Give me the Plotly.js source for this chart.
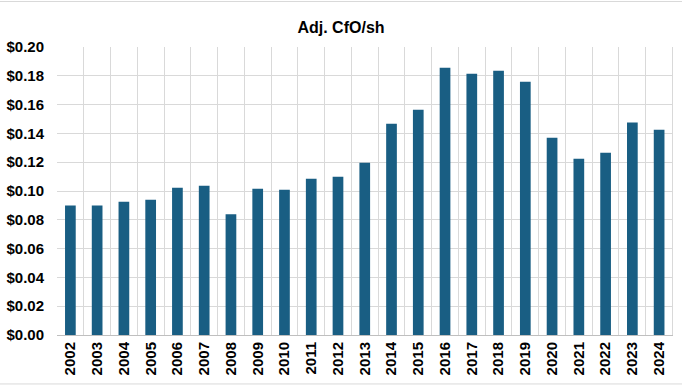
<!DOCTYPE html>
<html>
<head>
<meta charset="utf-8">
<script src="https://cdn.plot.ly/plotly-3.0.1.min.js"></script>
<style>html,body{margin:0;padding:0;background:#fff;}#chart{width:682px;height:386px;}</style>
</head>
<body>
<div id="chart"></div>
<script>
const years = ["2002","2003","2004","2005","2006","2007","2008","2009","2010","2011","2012","2013","2014","2015","2016","2017","2018","2019","2020","2021","2022","2023","2024"];
const cfoPerShare = [0.090,0.090,0.0926,0.094,0.1023,0.1037,0.0838,0.1016,0.1009,0.1085,0.1099,0.1196,0.1467,0.1564,0.1856,0.1815,0.1835,0.1759,0.137,0.1224,0.1266,0.1475,0.1426];
const yTicks = [0,0.02,0.04,0.06,0.08,0.10,0.12,0.14,0.16,0.18,0.20];

const font = "'Liberation Sans Narrow', 'Arial Narrow', 'Liberation Sans', sans-serif";
Plotly.newPlot('chart', [{
  type: 'bar',
  x: years,
  y: cfoPerShare,
  marker: {color: '#195E83'},
  hoverinfo: 'none'
}], {
  width: 682, height: 386,
  margin: {l: 57, r: 9, t: 47, b: 51},
  paper_bgcolor: '#ffffff', plot_bgcolor: '#ffffff',
  bargap: 0.6,
  showlegend: false,
  title: {text: 'Adj. CfO/sh', x: 0.5, xanchor: 'center', y: 0.93, yanchor: 'middle',
          font: {family: font, size: 16, color: '#000000', weight: 'bold'}},
  xaxis: {
    type: 'category', tickangle: -90, tickson: 'boundaries', showgrid: true,
    gridcolor: '#d9d9d9', gridwidth: 1, ticks: '', showline: true, linecolor: '#bfbfbf', linewidth: 1,
    tickfont: {family: font, size: 15, color: '#000000', weight: 'bold'}
  },
  yaxis: {
    range: [0, 0.2], tickvals: yTicks, tickformat: '$.2f', showgrid: true,
    gridcolor: '#d9d9d9', gridwidth: 1, zeroline: false, ticks: '', ticklen: 0,
    ticklabelstandoff: 12,
    tickfont: {family: font, size: 15, color: '#000000', weight: 'bold'}
  },
  shapes: [
    {type: 'line', xref: 'paper', yref: 'paper', x0: -0.1, x1: 1.02, y0: 1.158, y1: 1.158, line: {color: '#d9d9d9', width: 1}},
    {type: 'line', xref: 'paper', yref: 'paper', x0: -0.1, x1: 1.02, y0: -0.170, y1: -0.170, line: {color: '#d9d9d9', width: 1}},
    {type: 'line', xref: 'x', yref: 'paper', x0: 22.5, x1: 22.5, y0: 0, y1: 1, line: {color: '#d9d9d9', width: 1}}
  ]
}, {displayModeBar: false, staticPlot: true});
</script>
</body>
</html>
